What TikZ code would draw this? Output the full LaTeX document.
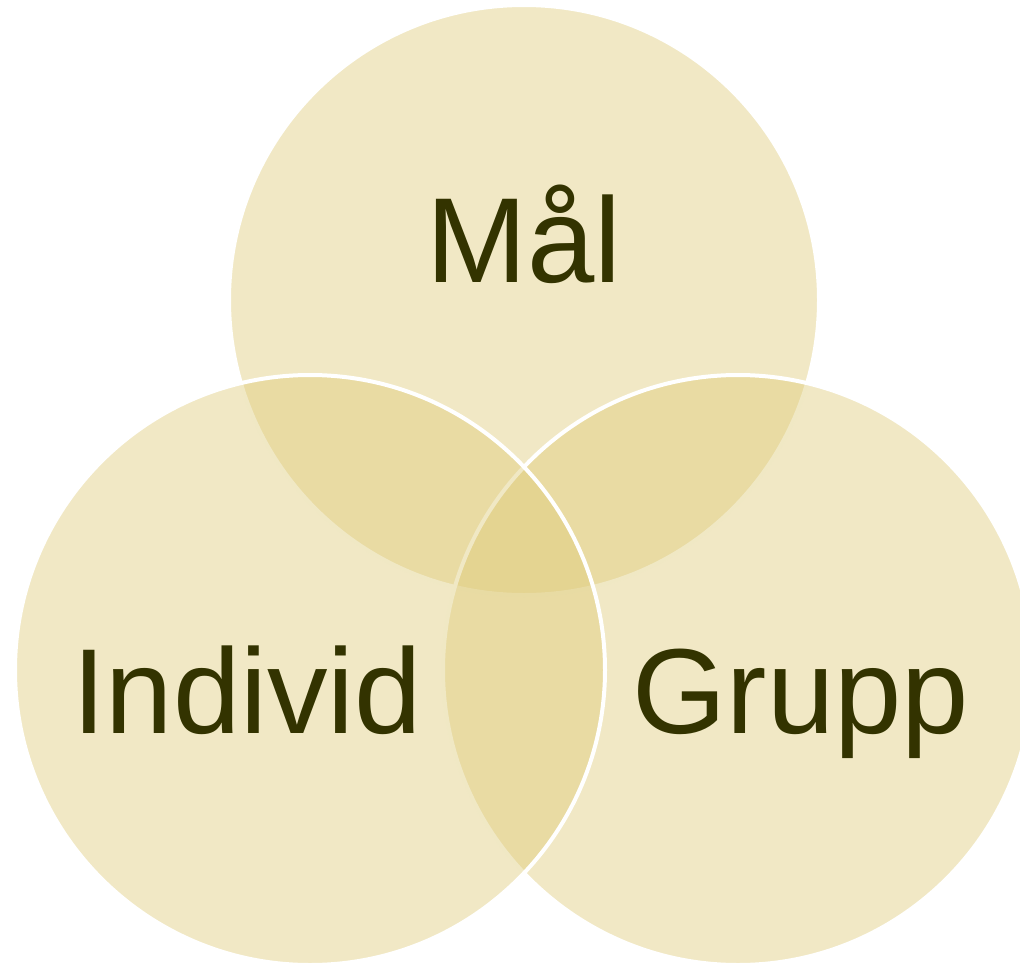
\documentclass[tikz,border=0pt]{standalone}
\usepackage{fontspec}
\setmainfont{Liberation Sans}
\definecolor{vennfill}{RGB}{222,202,120}
\definecolor{venntext}{RGB}{51,51,0}
\tikzset{
  venn/.style={fill=vennfill, fill opacity=0.43, draw=white, line width=4pt},
  vlabel/.style={text=venntext, font=\fontsize{121}{130}\selectfont, anchor=base, inner sep=0pt}
}
\begin{document}
\begin{tikzpicture}[x=1pt,y=-1pt]
\useasboundingbox (0,0) rectangle (1020,966);
\begin{scope}
\clip (0,0) rectangle (1020,966);
\path[venn] (524,300) circle[radius=295];
\path[venn] (738,670) circle[radius=295];
\path[venn] (310,670) circle[radius=295];
\end{scope}
\node[vlabel] (mal) at (524,282) {Mål};
\node[vlabel] (ind) at (247,733) {Individ};
\node[vlabel] (grp) at (801,733) {Grupp};
\end{tikzpicture}
\end{document}
